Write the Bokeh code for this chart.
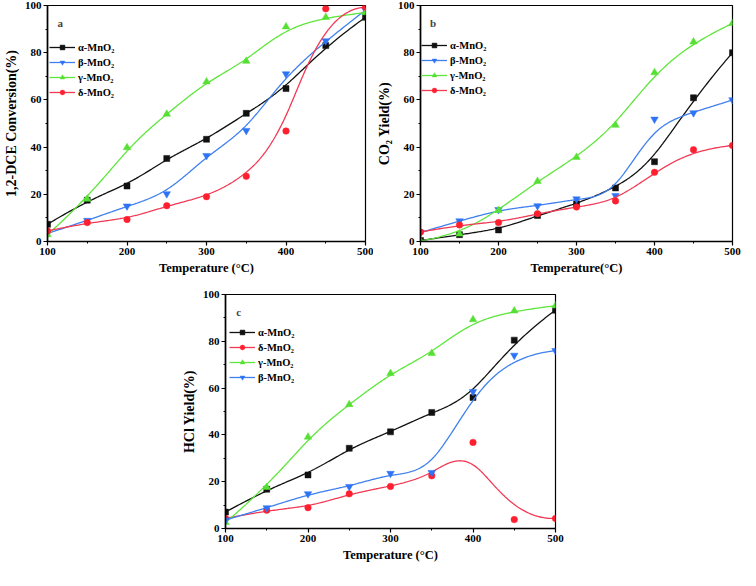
import numpy as np
from bokeh.plotting import figure
from bokeh.models import Legend, LegendItem, Label, Spacer, FixedTicker
from bokeh.layouts import column, row
from bokeh.embed import file_html
from bokeh.resources import INLINE

temps = [100, 150, 200, 250, 300, 350, 400, 450, 500]

# Panel a: 1,2-DCE conversion (%)
a_alpha = [7.3, 17.5, 23.5, 35.2, 43.3, 54.3, 64.8, 83.0, 95.0]
a_beta = [3.4, 8.9, 15.0, 20.2, 36.4, 47.0, 71.0, 85.0, 98.0]
a_gamma = [2.9, 18.0, 39.8, 54.0, 67.7, 76.4, 91.0, 95.0, 97.0]
a_delta = [4.5, 8.0, 9.3, 15.2, 19.0, 27.6, 46.8, 98.6, 99.3]

# Panel b: CO2 yield (%)
b_alpha = [0.4, 2.9, 4.9, 11.0, 16.0, 22.7, 33.8, 60.9, 80.0]
b_beta = [3.8, 8.7, 13.5, 15.1, 18.0, 19.4, 51.8, 54.5, 60.0]
b_gamma = [0.2, 3.2, 13.2, 25.5, 35.7, 49.3, 71.6, 84.6, 92.4]
b_delta = [4.0, 7.0, 8.0, 11.8, 14.6, 17.2, 29.3, 38.9, 40.7]

# Panel c: HCl yield (%)
c_alpha = [7.0, 16.8, 22.9, 34.3, 41.3, 49.6, 56.0, 80.5, 93.3]
c_delta = [4.3, 7.8, 8.9, 14.8, 18.0, 22.5, 36.8, 3.8, 4.3]
c_gamma = [2.6, 17.6, 39.1, 53.0, 66.3, 74.9, 89.3, 93.0, 95.2]
c_beta = [3.6, 8.8, 14.8, 17.9, 23.5, 23.9, 58.5, 74.0, 76.0]

x_ticks = [100, 200, 300, 400, 500]
x_minor = [150, 250, 350, 450]
y_ticks = [0, 20, 40, 60, 80, 100]
y_minor = [10, 30, 50, 70, 90]

FONT = "Liberation Serif"
COL = {"alpha": "#111111", "beta": "#3f80ee", "gamma": "#5ee63c", "delta": "#f23a55"}
MCOL = {"alpha": "#111111", "beta": "#2f73f5", "gamma": "#55e033", "delta": "#ff1f2f"}
MARK = {"alpha": "square", "beta": "inverted_triangle", "gamma": "triangle", "delta": "circle"}
MSIZE = {"alpha": 6, "beta": 7.5, "gamma": 7.5, "delta": 6.5}
NAME = {"alpha": "α-MnO₂", "beta": "β-MnO₂", "gamma": "γ-MnO₂", "delta": "δ-MnO₂"}


def bspline(xs, ys, n=300):
    P = np.column_stack([xs, ys]).astype(float)
    k = 3
    m = len(P)
    knots = np.concatenate([np.zeros(k), np.arange(m - k + 1), np.full(k, m - k)]).astype(float)
    t = np.linspace(0, m - k, n)
    nb = len(knots) - 1
    N = np.zeros((nb, n))
    for i in range(nb):
        N[i] = (knots[i] <= t) & (t < knots[i + 1])
    N[m - 1, t >= knots[-1]] = 1.0
    for p in range(1, k + 1):
        Nn = np.zeros((nb - p, n))
        for i in range(nb - p):
            d1 = knots[i + p] - knots[i]
            d2 = knots[i + p + 1] - knots[i + 1]
            term = np.zeros(n)
            if d1 > 0:
                term += (t - knots[i]) / d1 * N[i]
            if d2 > 0:
                term += (knots[i + p + 1] - t) / d2 * N[i + 1]
            Nn[i] = term
        N = Nn
    C = N.T @ P
    return C[:, 0], C[:, 1]


def make_panel(series, order, ylabel, ylsize, xlabel, letter, fw, fh, bl, br, bt, bb, leg_top, leg_left):
    p = figure(frame_width=fw, frame_height=fh, x_range=(100, 500), y_range=(0, 100),
               output_backend="svg", toolbar_location=None,
               min_border_left=bl, min_border_right=br, min_border_top=bt, min_border_bottom=bb)
    p.xgrid.visible = False
    p.ygrid.visible = False
    p.outline_line_color = "black"
    p.outline_line_width = 1.2
    p.background_fill_color = "white"
    p.border_fill_color = "white"
    p.xaxis.ticker = FixedTicker(ticks=x_ticks, minor_ticks=x_minor)
    p.yaxis.ticker = FixedTicker(ticks=y_ticks, minor_ticks=y_minor)
    for ax in (p.xaxis[0], p.yaxis[0]):
        ax.axis_line_width = 1.6
        ax.axis_line_color = "black"
        ax.major_tick_out = 4
        ax.major_tick_in = 0
        ax.minor_tick_out = 2
        ax.minor_tick_in = 0
        ax.major_tick_line_width = 1.2
        ax.major_label_text_font = FONT
        ax.major_label_text_font_style = "bold"
        ax.major_label_text_font_size = "11px"
        ax.major_label_text_color = "black"
        ax.major_label_standoff = 2
        ax.axis_label_text_font = FONT
        ax.axis_label_text_font_style = "bold"
        ax.axis_label_text_color = "black"
        ax.axis_label_standoff = 3
    p.xaxis.axis_label = xlabel
    p.xaxis.axis_label_text_font_size = "12.5px"
    p.yaxis.axis_label = ylabel
    p.yaxis.axis_label_text_font_size = ylsize

    items = []
    for key in order:
        ys = series[key]
        sx, sy = bspline(temps, ys)
        lr = p.line(sx, sy, line_color=COL[key], line_width=1.3)
        sr = p.scatter(temps, ys, marker=MARK[key], size=MSIZE[key],
                       fill_color=MCOL[key], line_color=MCOL[key], line_width=0.5)
        items.append(LegendItem(label=NAME[key], renderers=[lr, sr]))

    leg_h = 2 * 2 + 4 * 12 + 3 * 3
    legend = Legend(items=items, location=(leg_left, fh - leg_top - leg_h),
                    padding=2, spacing=3, margin=0, glyph_width=26, glyph_height=12,
                    label_height=12, label_standoff=3,
                    label_text_font=FONT, label_text_font_style="bold",
                    label_text_font_size="10.5px", label_text_color="black",
                    border_line_color=None, background_fill_alpha=0)
    p.add_layout(legend)
    p.add_layout(Label(x=116, y=92.5, text=letter, text_font=FONT, text_font_style="bold",
                       text_font_size="11px", text_align="center", text_baseline="middle"))
    return p


pa = make_panel({"alpha": a_alpha, "beta": a_beta, "gamma": a_gamma, "delta": a_delta},
                ["alpha", "beta", "gamma", "delta"], "1,2-DCE Conversion(%)", "14px",
                "Temperature (°C)", "a", 318, 236, 44, 8, 5, 45, 32, 2)
pb = make_panel({"alpha": b_alpha, "beta": b_beta, "gamma": b_gamma, "delta": b_delta},
                ["alpha", "beta", "gamma", "delta"], "CO₂ Yield(%)", "14px",
                "Temperature(°C)", "b", 312, 236, 44, 12, 5, 45, 30, 1)
pc = make_panel({"alpha": c_alpha, "beta": c_beta, "gamma": c_gamma, "delta": c_delta},
                ["alpha", "delta", "gamma", "beta"], "HCl Yield(%)", "14px",
                "Temperature (°C)", "c", 330, 234, 44, 14, 8, 40, 28, 4)

layout = column(row(pa, pb), row(Spacer(width=178, height=10), pc))

open("out.html", "w").write(file_html(layout, INLINE))
